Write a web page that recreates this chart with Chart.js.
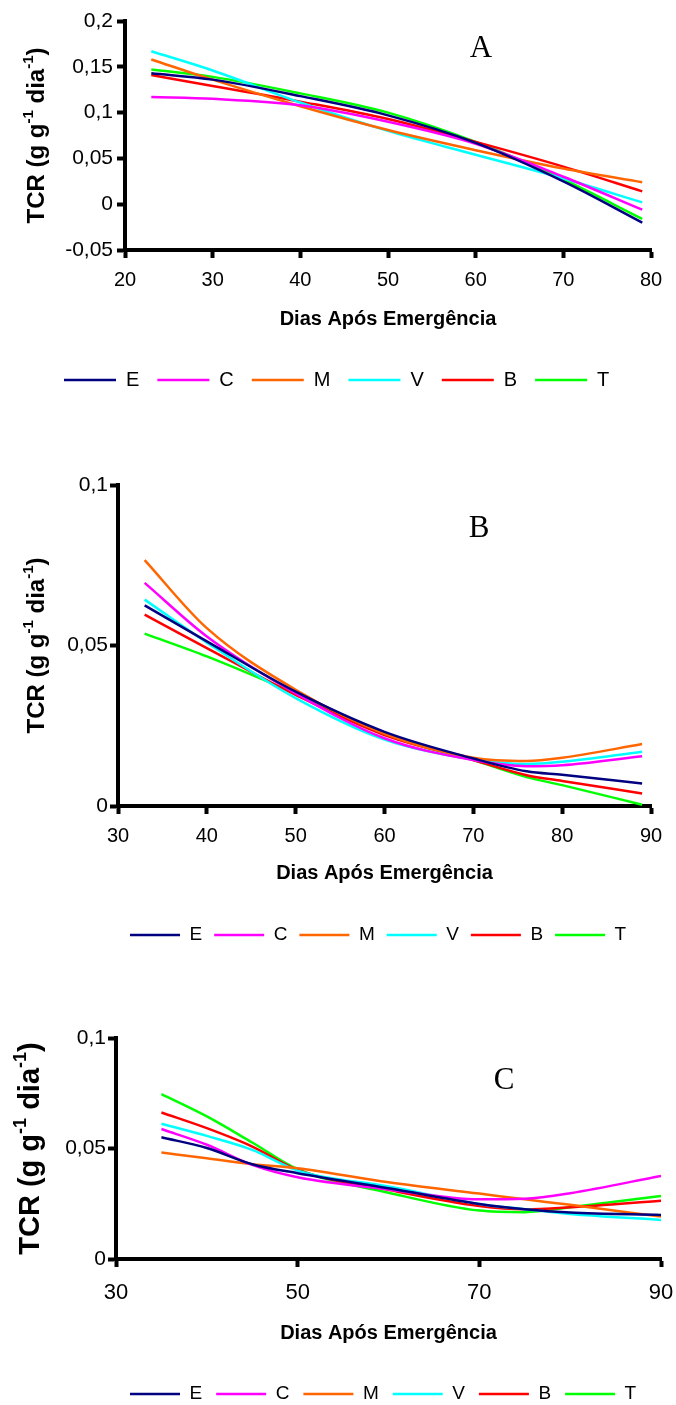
<!DOCTYPE html>
<html>
<head>
<meta charset="utf-8">
<script src="https://cdn.jsdelivr.net/npm/chart.js@4.4.0/dist/chart.umd.min.js"></script>
<style>
  html, body { margin: 0; padding: 0; background: #fff; overflow: hidden; }
  canvas { position: absolute; left: 0; }
</style>
</head>
<body>
<canvas id="chartA" width="676" height="400" style="top:0px"></canvas>
<canvas id="chartB" width="676" height="555" style="top:400px"></canvas>
<canvas id="chartC" width="676" height="460" style="top:955px"></canvas>
<script>
// series (tratamentos) and colours
const seriesNames = ['E', 'C', 'M', 'V', 'B', 'T'];
const seriesColors = ['#000080', '#ff00ff', '#ff6600', '#00ffff', '#ff0000', '#00ff00'];

// Grafico A - TCR (g g-1 dia-1)
const diasA = [23, 30, 40, 50, 60, 70, 79];
const aE = [0.143, 0.136, 0.118, 0.097, 0.067, 0.025, -0.020];
const aC = [0.117, 0.115, 0.108, 0.090, 0.066, 0.030, -0.006];
const aM = [0.158, 0.136, 0.107, 0.081, 0.059, 0.039, 0.024];
const aV = [0.167, 0.146, 0.111, 0.080, 0.054, 0.028, 0.002];
const aB = [0.141, 0.129, 0.112, 0.093, 0.068, 0.041, 0.014];
const aT = [0.147, 0.139, 0.121, 0.100, 0.068, 0.027, -0.016];
const xTicksA = [20, 30, 40, 50, 60, 70, 80];
const yTicksA = [-0.05, 0, 0.05, 0.1, 0.15, 0.2];

// Grafico B
const diasB = [33, 40, 50, 60, 70, 76, 80, 89];
const bE = [0.0625, 0.0513, 0.0356, 0.0231, 0.0148, 0.0108, 0.0097, 0.0070];
const bC = [0.0695, 0.0528, 0.0351, 0.0211, 0.0143, 0.0124, 0.0127, 0.0155];
const bM = [0.0766, 0.0554, 0.0362, 0.0225, 0.0150, 0.0140, 0.0150, 0.0193];
const bV = [0.0643, 0.0509, 0.0336, 0.0207, 0.0145, 0.0131, 0.0138, 0.0169];
const bB = [0.0596, 0.0492, 0.0346, 0.0221, 0.0143, 0.0096, 0.0078, 0.0039];
const bT = [0.0537, 0.0466, 0.0350, 0.0226, 0.0143, 0.0090, 0.0065, 0.0004];
const xTicksB = [30, 40, 50, 60, 70, 80, 90];
const yTicksB = [0, 0.05, 0.1];

// Grafico C
const diasC = [35, 40, 45, 50, 60, 70, 75, 80, 90];
const cE = [0.0551, 0.0502, 0.0429, 0.0388, 0.0320, 0.0249, 0.0225, 0.0210, 0.0199];
const cC = [0.0588, 0.0517, 0.0426, 0.0370, 0.0315, 0.0270, 0.0273, 0.0298, 0.0376];
const cM = [0.0482, 0.0456, 0.0429, 0.0411, 0.0347, 0.0296, 0.0270, 0.0245, 0.0192];
const cV = [0.0612, 0.0557, 0.0494, 0.0400, 0.0328, 0.0249, 0.0225, 0.0204, 0.0177];
const cB = [0.0663, 0.0592, 0.0509, 0.0403, 0.0313, 0.0240, 0.0225, 0.0234, 0.0264];
const cT = [0.0746, 0.0645, 0.0527, 0.0406, 0.0300, 0.0219, 0.0212, 0.0234, 0.0285];
const xTicksC = [30, 50, 70, 90];
const yTicksC = [0, 0.05, 0.1];

const sansFamily = '"Liberation Sans", Arial, Helvetica, sans-serif';
Chart.defaults.font.family = sansFamily;
Chart.defaults.color = '#000';
Chart.defaults.animation = false;

// 0.05 -> "0,05"
const fmt = v => String(Math.round(v * 1000) / 1000).replace('.', ',');

// rotated y title with superscripts: TCR (g g-1 dia-1)
const yTitlePlugin = {
  id: 'yTitle',
  afterDraw(chart, args, opts) {
    const ctx = chart.ctx;
    const area = chart.chartArea;
    const size = opts.size;
    const sup = Math.round(size * 0.62);
    const parts = [
      ['TCR (g g', size, 0],
      ['-1', sup, size * 0.33],
      [' dia', size, 0],
      ['-1', sup, size * 0.33],
      [')', size, 0]
    ];
    ctx.save();
    ctx.translate(opts.x, (area.top + area.bottom) / 2);
    ctx.rotate(-Math.PI / 2);
    ctx.fillStyle = '#000';
    ctx.textBaseline = 'middle';
    ctx.textAlign = 'left';
    let total = 0;
    parts.forEach(p => {
      ctx.font = 'bold ' + p[1] + 'px ' + sansFamily;
      total += ctx.measureText(p[0]).width;
    });
    let x = -total / 2;
    parts.forEach(p => {
      ctx.font = 'bold ' + p[1] + 'px ' + sansFamily;
      ctx.fillText(p[0], x, -p[2]);
      x += ctx.measureText(p[0]).width;
    });
    ctx.restore();
  }
};

// letra do painel (A, B, C)
const panelPlugin = {
  id: 'panel',
  afterDraw(chart, args, opts) {
    const ctx = chart.ctx;
    ctx.save();
    ctx.font = opts.size + 'px "Liberation Serif", "Times New Roman", serif';
    ctx.fillStyle = '#000';
    ctx.textAlign = 'center';
    ctx.textBaseline = 'middle';
    ctx.fillText(opts.text, opts.x, opts.y);
    ctx.restore();
  }
};

function makeChart(canvasId, g) {
  const W = 676;
  // paddings so that plot area and legend land where they are in the figure
  const pr = W - g.right;
  const pl = g.legendFull ? g.legendStart - g.legendPad : 0;
  const yWidth = g.left - pl;
  const pb = g.H - g.legendY - g.legendFont / 2 - 10;
  const legendTop = g.H - pb - (g.legendFont + g.legendPad + 10);
  const xHeight = legendTop - g.bottom;
  const titlePad = legendTop - g.titleY - g.titleFont * 0.6;

  const datasets = seriesNames.map((name, i) => ({
    label: name,
    data: g.days.map((d, k) => ({ x: d, y: g.values[i][k] })),
    borderColor: seriesColors[i],
    backgroundColor: seriesColors[i],
    borderWidth: 2.5,
    pointRadius: 0,
    fill: false,
    cubicInterpolationMode: 'monotone'
  }));

  return new Chart(document.getElementById(canvasId), {
    type: 'line',
    data: { datasets: datasets },
    options: {
      responsive: false,
      layout: { padding: { left: pl, right: pr, top: g.top, bottom: pb } },
      scales: {
        x: {
          type: 'linear',
          min: g.xTicks[0],
          max: g.xTicks[g.xTicks.length - 1],
          afterBuildTicks: axis => { axis.ticks = g.xTicks.map(v => ({ value: v })); },
          afterFit: axis => { axis.height = xHeight; axis.paddingLeft = 0; axis.paddingRight = 0; },
          grid: { drawOnChartArea: false, tickLength: 8, tickWidth: 4, tickColor: '#000' },
          border: { color: '#000', width: 4 },
          ticks: {
            font: { size: g.xTickFont },
            padding: g.xTickPad,
            color: '#000',
            maxRotation: 0,
            autoSkip: false,
            callback: v => String(v)
          },
          title: {
            display: true,
            text: 'Dias Após Emergência',
            color: '#000',
            font: { size: g.titleFont, weight: 'bold' },
            padding: { top: 0, bottom: titlePad }
          }
        },
        y: {
          type: 'linear',
          min: g.yTicks[0],
          max: g.yTicks[g.yTicks.length - 1],
          afterBuildTicks: axis => { axis.ticks = g.yTicks.map(v => ({ value: v })); },
          afterFit: axis => { axis.width = yWidth; axis.paddingTop = 0; axis.paddingBottom = 0; },
          grid: { drawOnChartArea: false, tickLength: 8, tickWidth: 4, tickColor: '#000' },
          border: { color: '#000', width: 4 },
          ticks: {
            font: { size: g.yTickFont },
            padding: g.yTickPad,
            color: '#000',
            autoSkip: false,
            callback: v => fmt(v)
          }
        }
      },
      plugins: {
        tooltip: { enabled: false },
        legend: {
          display: true,
          position: 'bottom',
          align: 'start',
          fullSize: g.legendFull,
          labels: {
            usePointStyle: true,
            pointStyle: 'line',
            pointStyleWidth: g.legendLine,
            padding: g.legendPad,
            color: '#000',
            font: { size: g.legendFont }
          }
        },
        yTitle: { x: g.yTitleX, size: g.yTitleFont },
        panel: { text: g.letter, x: g.letterX, y: g.letterY, size: 31 }
      }
    },
    plugins: [yTitlePlugin, panelPlugin]
  });
}

makeChart('chartA', {
  H: 400, left: 125, right: 651, top: 21, bottom: 250,
  legendFull: true, legendStart: 64, legendY: 380, legendFont: 20, legendPad: 18, legendLine: 52,
  titleY: 319, titleFont: 20,
  xTickFont: 20, xTickPad: 10, yTickFont: 21, yTickPad: 4,
  yTitleX: 37, yTitleFont: 24,
  letter: 'A', letterX: 481, letterY: 49,
  days: diasA, values: [aE, aC, aM, aV, aB, aT],
  xTicks: xTicksA, yTicks: yTicksA
});

makeChart('chartB', {
  H: 555, left: 118, right: 651, top: 85, bottom: 406,
  legendFull: false, legendY: 535, legendFont: 19, legendPad: 12, legendLine: 50,
  titleY: 473, titleFont: 20,
  xTickFont: 20, xTickPad: 10, yTickFont: 21, yTickPad: 2,
  yTitleX: 37, yTitleFont: 24,
  letter: 'B', letterX: 479, letterY: 129,
  days: diasB, values: [bE, bC, bM, bV, bB, bT],
  xTicks: xTicksB, yTicks: yTicksB
});

makeChart('chartC', {
  H: 460, left: 116, right: 661, top: 83, bottom: 304,
  legendFull: false, legendY: 439, legendFont: 19, legendPad: 14, legendLine: 50,
  titleY: 378, titleFont: 20,
  xTickFont: 22, xTickPad: 13, yTickFont: 21, yTickPad: 2,
  yTitleX: 31, yTitleFont: 29,
  letter: 'C', letterX: 504, letterY: 126,
  days: diasC, values: [cE, cC, cM, cV, cB, cT],
  xTicks: xTicksC, yTicks: yTicksC
});
</script>
</body>
</html>
